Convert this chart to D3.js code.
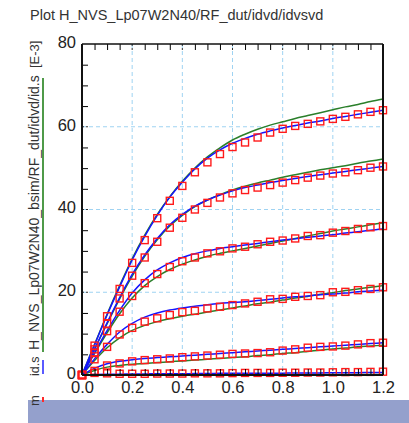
<!DOCTYPE html>
<html>
<head>
<meta charset="utf-8">
<script src="https://cdn.jsdelivr.net/npm/d3@7/dist/d3.min.js"></script>
<style>
    body { margin: 0; background: #fff; }
    svg text { font-family: "Liberation Sans", Arial, sans-serif; fill: #222; }
</style>
</head>
<body>
<div id="chart"></div>
<script>
// drain voltage (x) for every sample
var vd = [0, 0.05, 0.1, 0.15, 0.2, 0.25, 0.3, 0.35, 0.4, 0.45, 0.5, 0.55, 0.6,
    0.65, 0.7, 0.75, 0.8, 0.85, 0.9, 0.95, 1.0, 1.05, 1.1, 1.15, 1.2];

// measured id [E-3], one array per gate step (red squares)
var meas1 = [0, 0.5, 0.4, 0.3, 0.3, 0.3, 0.35, 0.35, 0.35, 0.4, 0.4, 0.4, 0.45, 0.5, 0.5, 0.5, 0.55, 0.55, 0.6, 0.6, 0.65, 0.7, 0.7, 0.75, 0.8];
var meas2 = [0, 1.0, 2.3, 2.8, 3.3, 3.6, 3.8, 4.0, 4.3, 4.5, 4.7, 4.9, 5.1, 5.2, 5.3, 5.5, 5.9, 6.2, 6.6, 6.8, 6.9, 7.1, 7.4, 7.7, 7.8];
var meas3 = [0, 3.8, 6.8, 9.8, 11.4, 12.9, 13.7, 14.5, 15.2, 15.5, 16.1, 16.5, 16.9, 17.3, 17.7, 18.3, 18.4, 18.9, 19.1, 19.3, 20.0, 20.1, 20.5, 20.8, 21.2];
var meas4 = [0, 5.3, 10.6, 15.3, 19.1, 22.2, 24.4, 26.1, 27.5, 28.4, 29.4, 29.9, 30.6, 31.0, 31.6, 32.2, 32.5, 33.0, 33.6, 33.8, 34.4, 34.8, 35.3, 35.7, 36.0];
var meas5 = [0, 6.2, 12.4, 18.5, 24.0, 28.4, 32.2, 35.6, 38.0, 40.0, 41.6, 42.9, 43.9, 44.7, 45.3, 45.9, 46.5, 47.1, 47.7, 48.2, 48.7, 49.0, 49.5, 50.1, 50.4];
var meas6 = [0, 7.1, 14.2, 20.8, 27.1, 32.6, 37.9, 42.1, 45.7, 49.0, 51.4, 53.4, 55.1, 56.2, 57.4, 58.6, 59.5, 60.2, 60.7, 61.3, 61.9, 62.4, 63.0, 63.6, 64.0];

// simulated id.s (blue)
var blue1 = [0, 0.15, 0.2, 0.2, 0.25, 0.25, 0.3, 0.3, 0.3, 0.35, 0.35, 0.4, 0.4, 0.4, 0.45, 0.45, 0.45, 0.5, 0.5, 0.5, 0.55, 0.55, 0.55, 0.6, 0.6];
var blue2 = [0, 1.6, 2.7, 3.3, 3.7, 4.0, 4.2, 4.4, 4.6, 4.8, 5.0, 5.2, 5.4, 5.6, 5.8, 6.0, 6.2, 6.4, 6.6, 6.8, 7.0, 7.2, 7.4, 7.6, 7.8];
var blue3 = [0, 3.9, 7.4, 10.4, 12.5, 14.0, 15.0, 15.7, 16.2, 16.6, 17.0, 17.3, 17.5, 17.7, 18.0, 18.3, 18.6, 18.9, 19.1, 19.4, 19.6, 19.8, 20.1, 20.3, 20.5];
var blue4 = [0, 5.4, 10.7, 15.6, 19.8, 23.0, 25.4, 27.1, 28.4, 29.3, 30.0, 30.6, 31.0, 31.4, 31.8, 32.2, 32.6, 32.9, 33.3, 33.6, 33.9, 34.3, 34.6, 35.0, 35.3];
var blue5 = [0, 6.3, 12.6, 18.7, 24.3, 29.0, 33.0, 36.3, 38.8, 40.8, 42.3, 43.5, 44.5, 45.3, 45.9, 46.5, 47.0, 47.5, 48.0, 48.4, 48.8, 49.2, 49.6, 50.0, 50.4];
var blue6 = [0, 7.3, 14.5, 21.3, 27.8, 33.5, 38.6, 43.0, 46.6, 49.8, 52.4, 54.4, 56.0, 57.2, 58.2, 59.0, 59.7, 60.3, 60.9, 61.4, 62.0, 62.5, 63.0, 63.5, 64.0];

// H_NVS_Lp07W2N40_bsim id.s (green)
var green1 = [0, 0.05, 0.05, 0.05, 0.05, 0.05, 0.05, 0.05, 0.1, 0.1, 0.1, 0.1, 0.1, 0.1, 0.1, 0.1, 0.1, 0.15, 0.15, 0.15, 0.15, 0.15, 0.15, 0.15, 0.15];
var green2 = [0, 1.1, 1.9, 2.3, 2.6, 2.8, 3.0, 3.2, 3.4, 3.6, 3.8, 4.0, 4.2, 4.4, 4.7, 4.9, 5.2, 5.4, 5.7, 6.0, 6.3, 6.5, 6.8, 7.0, 7.2];
var green3 = [0, 3.5, 6.6, 9.0, 10.8, 12.0, 12.9, 13.6, 14.2, 14.7, 15.2, 15.7, 16.2, 16.7, 17.2, 17.6, 18.1, 18.6, 19.0, 19.5, 19.9, 20.4, 20.8, 21.2, 21.6];
var green4 = [0, 5.2, 10.2, 14.8, 18.6, 21.6, 23.8, 25.5, 26.8, 27.8, 28.7, 29.4, 30.0, 30.6, 31.2, 31.8, 32.4, 33.0, 33.6, 34.2, 34.8, 35.3, 35.8, 36.3, 36.8];
var green5 = [0, 6.2, 12.4, 18.4, 23.9, 28.7, 32.7, 36.0, 38.6, 40.7, 42.3, 43.6, 44.7, 45.6, 46.4, 47.1, 47.8, 48.4, 49.0, 49.6, 50.1, 50.6, 51.2, 51.7, 52.2];
var green6 = [0, 7.4, 14.7, 21.6, 28.1, 33.8, 38.8, 43.1, 46.8, 50.0, 52.7, 54.9, 56.8, 58.2, 59.4, 60.4, 61.2, 62.0, 62.7, 63.4, 64.1, 64.8, 65.4, 66.1, 66.7];

// tick labels
var xTicks = [0, 0.2, 0.4, 0.6, 0.8, 1.0, 1.2];
var yTicks = [0, 20, 40, 60, 80];

var measured = [meas1, meas2, meas3, meas4, meas5, meas6];
var blueSim = [blue1, blue2, blue3, blue4, blue5, blue6];
var greenSim = [green1, green2, green3, green4, green5, green6];

var W = 409, H = 423;
var svg = d3.select("#chart").append("svg")
    .attr("width", W)
    .attr("height", H);

var x = d3.scaleLinear().domain([0, 1.2]).range([82, 383]);
var y = d3.scaleLinear().domain([0, 80]).range([375, 44]);

// bottom band
svg.append("rect")
    .attr("x", 28).attr("y", 400)
    .attr("width", W - 28).attr("height", H - 400)
    .attr("fill", "#94a0cc");

// title
svg.append("text")
    .attr("x", 30)
    .attr("y", 20)
    .style("font-size", "14.5px")
    .style("fill", "#333")
    .text("Plot H_NVS_Lp07W2N40/RF_dut/idvd/idvsvd");

// grid (dashed light blue)
var xGrid = xTicks.filter(function (d) { return d > 0 && d < 1.2; });
var yGrid = yTicks.filter(function (d) { return d > 0 && d < 80; });
var grid = svg.append("g").attr("class", "grid");
grid.selectAll(".gx").data(xGrid).enter().append("line")
    .attr("x1", function (d) { return x(d); })
    .attr("x2", function (d) { return x(d); })
    .attr("y1", y(80)).attr("y2", y(0))
    .attr("stroke", "#9fd3f2").attr("stroke-dasharray", "4,3");
grid.selectAll(".gy").data(yGrid).enter().append("line")
    .attr("y1", function (d) { return y(d); })
    .attr("y2", function (d) { return y(d); })
    .attr("x1", x(0)).attr("x2", x(1.2))
    .attr("stroke", "#9fd3f2").attr("stroke-dasharray", "4,3");

// curves
var line = d3.line()
    .x(function (d, i) { return x(vd[i]); })
    .y(function (d) { return y(d); })
    .curve(d3.curveMonotoneX);

svg.append("g").selectAll("path").data(greenSim).enter().append("path")
    .attr("d", line)
    .attr("fill", "none")
    .attr("stroke", "#2a7f2a")
    .attr("stroke-width", 1.5);

svg.append("g").selectAll("path").data(blueSim).enter().append("path")
    .attr("d", line)
    .attr("fill", "none")
    .attr("stroke", "#1414ff")
    .attr("stroke-width", 1.5);

// measured points as hollow squares
var pts = [];
measured.forEach(function (s) {
    s.forEach(function (v, i) { pts.push({ vd: vd[i], id: v }); });
});
svg.append("g").selectAll("rect").data(pts).enter().append("rect")
    .attr("x", function (d) { return x(d.vd) - 3.5; })
    .attr("y", function (d) { return y(d.id) - 3.5; })
    .attr("width", 7)
    .attr("height", 7)
    .attr("fill", "none")
    .attr("stroke", "#ff1a1a")
    .attr("stroke-width", 1.4);

// minor ticks (pointing inside)
var xMinor = d3.range(0.05, 1.2, 0.05).filter(function (d) {
    return Math.abs(d / 0.2 - Math.round(d / 0.2)) > 0.01;
});
var yMinor = d3.range(5, 80, 5).filter(function (d) { return d % 20 != 0; });

svg.append("g")
    .attr("transform", "translate(0," + y(0) + ")")
    .call(d3.axisBottom(x).tickValues(xMinor).tickSize(-6).tickFormat(""))
    .call(function (g) { g.select(".domain").remove(); });
svg.append("g")
    .attr("transform", "translate(0," + y(80) + ")")
    .call(d3.axisTop(x).tickValues(xMinor).tickSize(-6).tickFormat(""))
    .call(function (g) { g.select(".domain").remove(); });
svg.append("g")
    .attr("transform", "translate(" + x(0) + ",0)")
    .call(d3.axisLeft(y).tickValues(yMinor).tickSize(-6).tickFormat(""))
    .call(function (g) { g.select(".domain").remove(); });

// major ticks: short dark dashes on the grid lines
var major = svg.append("g").attr("stroke", "#333").attr("stroke-dasharray", "2,2");
xGrid.forEach(function (d) {
    major.append("line").attr("x1", x(d)).attr("x2", x(d)).attr("y1", y(80)).attr("y2", y(80) + 8);
    major.append("line").attr("x1", x(d)).attr("x2", x(d)).attr("y1", y(0)).attr("y2", y(0) - 8);
});
yGrid.forEach(function (d) {
    major.append("line").attr("y1", y(d)).attr("y2", y(d)).attr("x1", x(0)).attr("x2", x(0) + 8);
});

// labels
var xAxis = svg.append("g")
    .attr("transform", "translate(0," + y(0) + ")")
    .call(d3.axisBottom(x).tickValues(xTicks).tickSize(0).tickPadding(6).tickFormat(d3.format(".1f")));
xAxis.select(".domain").remove();
var yAxis = svg.append("g")
    .attr("transform", "translate(" + (x(0) - 1) + ",-2)")
    .call(d3.axisLeft(y).tickValues(yTicks).tickSize(0).tickPadding(5));
yAxis.select(".domain").remove();
svg.selectAll(".tick text")
    .style("font-size", "16.5px")
    .style("font-family", "'Liberation Sans', Arial, sans-serif")
    .attr("fill", "#222");

// frame
svg.append("line").attr("x1", x(0)).attr("x2", x(1.2)).attr("y1", y(80)).attr("y2", y(80))
    .attr("stroke", "#111").attr("stroke-width", 1.5);
svg.append("line").attr("x1", x(0)).attr("x2", x(1.2)).attr("y1", y(0)).attr("y2", y(0))
    .attr("stroke", "#111").attr("stroke-width", 2);
svg.append("line").attr("x1", x(0)).attr("x2", x(0)).attr("y1", y(80)).attr("y2", y(0))
    .attr("stroke", "#111").attr("stroke-width", 2);
svg.append("line").attr("x1", x(1.2)).attr("x2", x(1.2)).attr("y1", y(80)).attr("y2", y(0))
    .attr("stroke", "#111").attr("stroke-width", 2);

// y label / legend, rotated
var ylab = [
    { text: "[E-3]", start: 68, size: 13 },
    { text: "H_NVS_Lp07W2N40_bsim/RF_dut/idvd/id.s", start: 350, size: 14 },
    { text: "id.s", start: 376, size: 12.5 },
    { text: "m", start: 406, size: 13 }
];
svg.append("g").selectAll("text").data(ylab).enter().append("text")
    .attr("transform", function (d) { return "translate(39," + d.start + ") rotate(-90)"; })
    .style("font-size", function (d) { return d.size + "px"; })
    .style("fill", "#333")
    .text(function (d) { return d.text; });

svg.append("line").attr("x1", 43).attr("x2", 43).attr("y1", 78).attr("y2", 352)
    .attr("stroke", "#4f9a48").attr("stroke-width", 2);
svg.append("line").attr("x1", 43).attr("x2", 43).attr("y1", 360).attr("y2", 374)
    .attr("stroke", "#5a5aff").attr("stroke-width", 2);
svg.append("line").attr("x1", 43).attr("x2", 43).attr("y1", 397).attr("y2", 402)
    .attr("stroke", "#ff2a2a").attr("stroke-width", 2);
</script>
</body>
</html>
